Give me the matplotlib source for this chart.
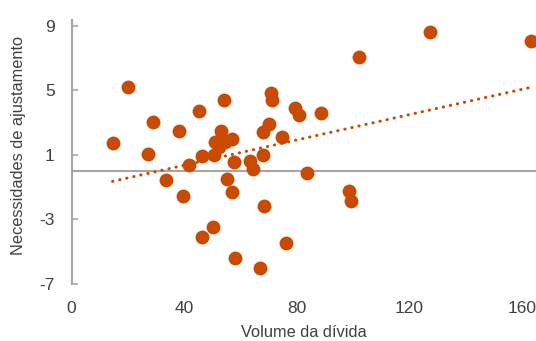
import numpy as np
import matplotlib
matplotlib.use("Agg")
import matplotlib.pyplot as plt

# volume da dívida (x) vs necessidades de ajustamento (y)
volume = [14.6, 20.0, 27.1, 29.1, 33.5, 38.1, 39.6, 41.6, 45.4, 46.4,
          46.5, 50.3, 50.7, 51.0, 53.1, 57.0, 54.5, 52.4, 54.2, 55.1,
          56.9, 57.8, 58.1, 63.4, 64.4, 67.0, 67.9, 68.0, 68.3, 70.1,
          70.9, 71.2, 74.9, 76.1, 79.5, 80.8, 83.8, 88.5, 98.7, 99.3,
          102.1, 127.2, 163.2]
ajust = [1.72, 5.20, 1.04, 3.06, -0.57, 2.51, -1.56, 0.38, 3.75, -4.07,
         0.94, -3.45, 1.00, 1.82, 2.51, 1.99, 1.80, 1.49, 4.41, -0.49,
         -1.30, 0.55, -5.37, 0.61, 0.15, -6.03, 2.42, 0.98, -2.15, 2.90,
         4.82, 4.39, 2.13, -4.46, 3.93, 3.50, -0.14, 3.58, -1.22, -1.85,
         7.09, 8.63, 8.09]
xticks = [0, 40, 80, 120, 160]
yticks = [-7, -3, 1, 5, 9]

orange = "#C94A03"
grey = "#A6A6A6"
txt = "#404040"

plt.rcParams['font.family'] = ['Liberation Sans', 'DejaVu Sans']
plt.rcParams['axes.unicode_minus'] = False

fig = plt.figure(figsize=(5.36, 3.41), dpi=100)
ax = fig.add_axes([0.1334, 0.1672, 1 - 0.1334, 0.9413 - 0.1672])

x = np.array(volume)
y = np.array(ajust)
ax.scatter(x, y, s=100, color=orange, linewidths=0, zorder=3, clip_on=False)

# linear trend line over the data range
k, b = np.polyfit(x, y, 1)
xs = np.array([x.min(), x.max()])
ax.plot(xs, k * xs + b, color=orange, lw=2.2, linestyle=(0, (0.1, 2.26)),
        dash_capstyle="round", zorder=2)

ax.axhline(0, color=grey, lw=1.5, zorder=1)

ax.set_xlim(0, 165)
ax.set_ylim(-7, 9.37)
ax.set_xticks(xticks)
ax.set_yticks(yticks)

for s in ["top", "right", "bottom"]:
    ax.spines[s].set_visible(False)
ax.spines["left"].set_color(grey)
ax.spines["left"].set_linewidth(1.5)

ax.tick_params(axis="y", direction="in", length=4, width=1.2, color=grey,
               labelsize=12.5, labelcolor=txt, pad=12)
ax.tick_params(axis="x", length=0, labelsize=12.5, labelcolor=txt, pad=12)

ax.set_xlabel("Volume da dívida", fontsize=11.8, color=txt, labelpad=7)
ax.set_ylabel("Necessidades de ajustamento", fontsize=11.8, color=txt)
ax.yaxis.set_label_coords(-0.097, 0.523)

fig.savefig("out.png", dpi=100)
